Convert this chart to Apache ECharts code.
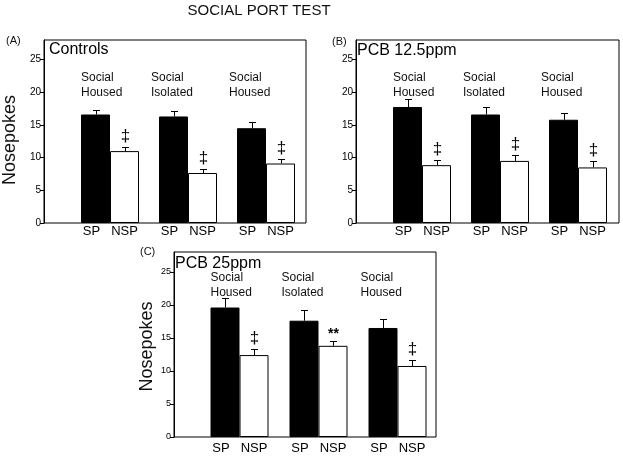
<!DOCTYPE html>
<html><head><meta charset="utf-8">
<script src="https://cdn.jsdelivr.net/npm/echarts@6/dist/echarts.min.js"></script>
<style>html,body{margin:0;padding:0;background:#fff}#c{width:623px;height:457px}</style>
</head><body><div id="c"></div>
<script>
// ---------- data ----------
const groups = ['Social\nHoused', 'Social\nIsolated', 'Social\nHoused'];
const barNames = ['SP', 'NSP'];
const yTicks = [0, 5, 10, 15, 20, 25];
const yMax = 28;

const spA = [16.6, 16.3, 14.5];
const spErrA = [0.75, 0.8, 0.95];
const nspA = [11.0, 7.65, 9.1];
const nspErrA = [0.6, 0.6, 0.75];
const markA = ['‡', '‡', '‡'];

const spB = [17.75, 16.6, 15.8];
const spErrB = [1.25, 1.1, 1.05];
const nspB = [8.85, 9.5, 8.5];
const nspErrB = [0.85, 0.95, 1.0];
const markB = ['‡', '‡', '‡'];

const spC = [19.6, 17.6, 16.5];
const spErrC = [1.4, 1.55, 1.35];
const nspC = [12.4, 13.8, 10.75];
const nspErrC = [0.9, 0.8, 0.95];
const markC = ['‡', '**', '‡'];

// ---------- layout ----------
const FONT = 'Liberation Sans, Arial, Helvetica, sans-serif';
const BW = 29;
const panels = [
  {tag: '(A)', title: 'Controls', sp: spA, spErr: spErrA, nsp: nspA, nspErr: nspErrA, marks: markA,
   frame: {left: 44, top: 40, width: 262, height: 183}, bars: {left: 71, width: 234},
   yName: 'Nosepokes', nameGap: 25, namePad: 17, tagPos: [6, 35], titlePos: [49, 42],
   groupY: 21.1, tickSize: 10, xLabelDist: 2},
  {tag: '(B)', title: 'PCB 12.5ppm', sp: spB, spErr: spErrB, nsp: nspB, nspErr: nspErrB, marks: markB,
   frame: {left: 356, top: 40, width: 263, height: 183}, bars: {left: 383, width: 234},
   yName: '', nameGap: 0, namePad: 0, tagPos: [332, 36], titlePos: [357, 43],
   groupY: 21.1, tickSize: 10, xLabelDist: 2},
  {tag: '(C)', title: 'PCB 25ppm', sp: spC, spErr: spErrC, nsp: nspC, nspErr: nspErrC, marks: markC,
   frame: {left: 174, top: 252, width: 262, height: 185}, bars: {left: 200, width: 237},
   yName: 'Nosepokes', nameGap: 18, namePad: 4, tagPos: [140, 246], titlePos: [175, 256],
   groupY: 23.0, tickSize: 9, xLabelDist: 5}
];
const groupOffX = [0, -8, -8];

const grid = [], xAxis = [], yAxis = [], series = [];
const title = [{
  text: 'SOCIAL PORT TEST', left: 259, top: 3, textAlign: 'center', padding: 0,
  textStyle: {fontSize: 15, fontWeight: 'normal', color: '#111', fontFamily: FONT}
}];

function errRender(dx, marks) {
  return function (params, api) {
    const i = api.value(0);
    const v = api.value(1);
    const e = api.value(2);
    const p0 = api.coord([i, v]);
    const p1 = api.coord([i, v + e]);
    const x = Math.round(p0[0] + dx) + 0.5;
    const y1 = Math.round(p1[1]) + 0.5;
    const children = [
      {type: 'line', shape: {x1: x, y1: p0[1], x2: x, y2: y1}, style: {stroke: '#000', lineWidth: 1}},
      {type: 'line', shape: {x1: x - 3.5, y1: y1, x2: x + 3.5, y2: y1}, style: {stroke: '#000', lineWidth: 1}}
    ];
    if (marks && marks[params.dataIndex]) {
      const m = marks[params.dataIndex];
      const isStar = m === '**';
      children.push({type: 'text', x: x, y: y1 - (isStar ? 0 : 3),
        style: {text: m, align: 'center', verticalAlign: 'bottom', fill: '#000',
          fontSize: isStar ? 14 : 17, fontWeight: isStar ? 'bold' : 'normal', fontFamily: FONT}});
    }
    return {type: 'group', children: children};
  };
}

panels.forEach((p, k) => {
  const fi = 2 * k, bi = 2 * k + 1;
  grid.push({left: p.frame.left, top: p.frame.top, width: p.frame.width, height: p.frame.height,
    show: true, borderColor: '#000', borderWidth: 1, backgroundColor: 'transparent'});
  grid.push({left: p.bars.left, top: p.frame.top, width: p.bars.width, height: p.frame.height});
  xAxis.push({gridIndex: fi, type: 'value', show: false, min: 0, max: 1});
  xAxis.push({gridIndex: bi, type: 'category', data: groups, show: false, boundaryGap: true});
  yAxis.push({gridIndex: fi, type: 'value', min: 0, max: yMax, interval: 5,
    name: p.yName, nameLocation: 'middle', nameRotate: 90, nameGap: p.nameGap,
    nameTextStyle: {fontSize: 18, color: '#111', fontFamily: FONT, padding: [0, p.namePad, 0, 0]},
    axisLine: {show: true, lineStyle: {color: '#000', width: 1}},
    axisTick: {show: true, inside: false, length: 4, lineStyle: {color: '#000'}, customValues: yTicks},
    axisLabel: {fontSize: p.tickSize, color: '#000', margin: 3, fontFamily: FONT, customValues: yTicks},
    splitLine: {show: false}});
  yAxis.push({gridIndex: bi, type: 'value', min: 0, max: yMax, show: false, splitLine: {show: false}});

  title.push({text: p.tag, left: p.tagPos[0], top: p.tagPos[1], padding: 0,
    textStyle: {fontSize: 11, fontWeight: 'normal', color: '#111', fontFamily: FONT}});
  title.push({text: p.title, left: p.titlePos[0], top: p.titlePos[1], padding: 0,
    textStyle: {fontSize: 16, fontWeight: 'normal', color: '#000', fontFamily: FONT}});

  const lab = (txt, off) => ({show: true, position: 'bottom', distance: p.xLabelDist, formatter: txt,
    fontSize: 13, color: '#000', fontFamily: FONT, offset: off});
  series.push({type: 'bar', name: barNames[0], xAxisIndex: bi, yAxisIndex: bi, data: p.sp,
    barWidth: BW, barGap: '0%', itemStyle: {color: '#000', borderColor: '#000', borderWidth: 1},
    label: lab(barNames[0], [-4, 0]), silent: true, animation: false});
  series.push({type: 'bar', name: barNames[1], xAxisIndex: bi, yAxisIndex: bi, data: p.nsp,
    barWidth: BW, barGap: '0%', itemStyle: {color: '#fff', borderColor: '#000', borderWidth: 1},
    label: lab(barNames[1], [0, 0]), silent: true, animation: false});
  series.push({type: 'custom', xAxisIndex: bi, yAxisIndex: bi, animation: false, silent: true,
    data: p.sp.map((v, j) => [j, v, p.spErr[j]]), renderItem: errRender(-BW / 2, null), z: 5});
  series.push({type: 'custom', xAxisIndex: bi, yAxisIndex: bi, animation: false, silent: true,
    data: p.nsp.map((v, j) => [j, v, p.nspErr[j]]), renderItem: errRender(BW / 2, p.marks), z: 5});
  series.push({type: 'custom', xAxisIndex: bi, yAxisIndex: bi, animation: false, silent: true,
    data: groups.map((g, j) => [j, p.groupY]),
    renderItem: function (params, api) {
      const j = params.dataIndex;
      const c = api.coord([api.value(0), api.value(1)]);
      return {type: 'text', x: c[0] - BW + groupOffX[j], y: c[1],
        style: {text: groups[j], align: 'left', verticalAlign: 'middle', fontSize: 12,
          lineHeight: 14.5, fill: '#111', fontFamily: FONT}};
    }, z: 5});
});

const chart = echarts.init(document.getElementById('c'), null, {renderer: 'canvas'});
chart.setOption({animation: false, backgroundColor: '#fff', title, grid, xAxis, yAxis, series});
</script></body></html>
